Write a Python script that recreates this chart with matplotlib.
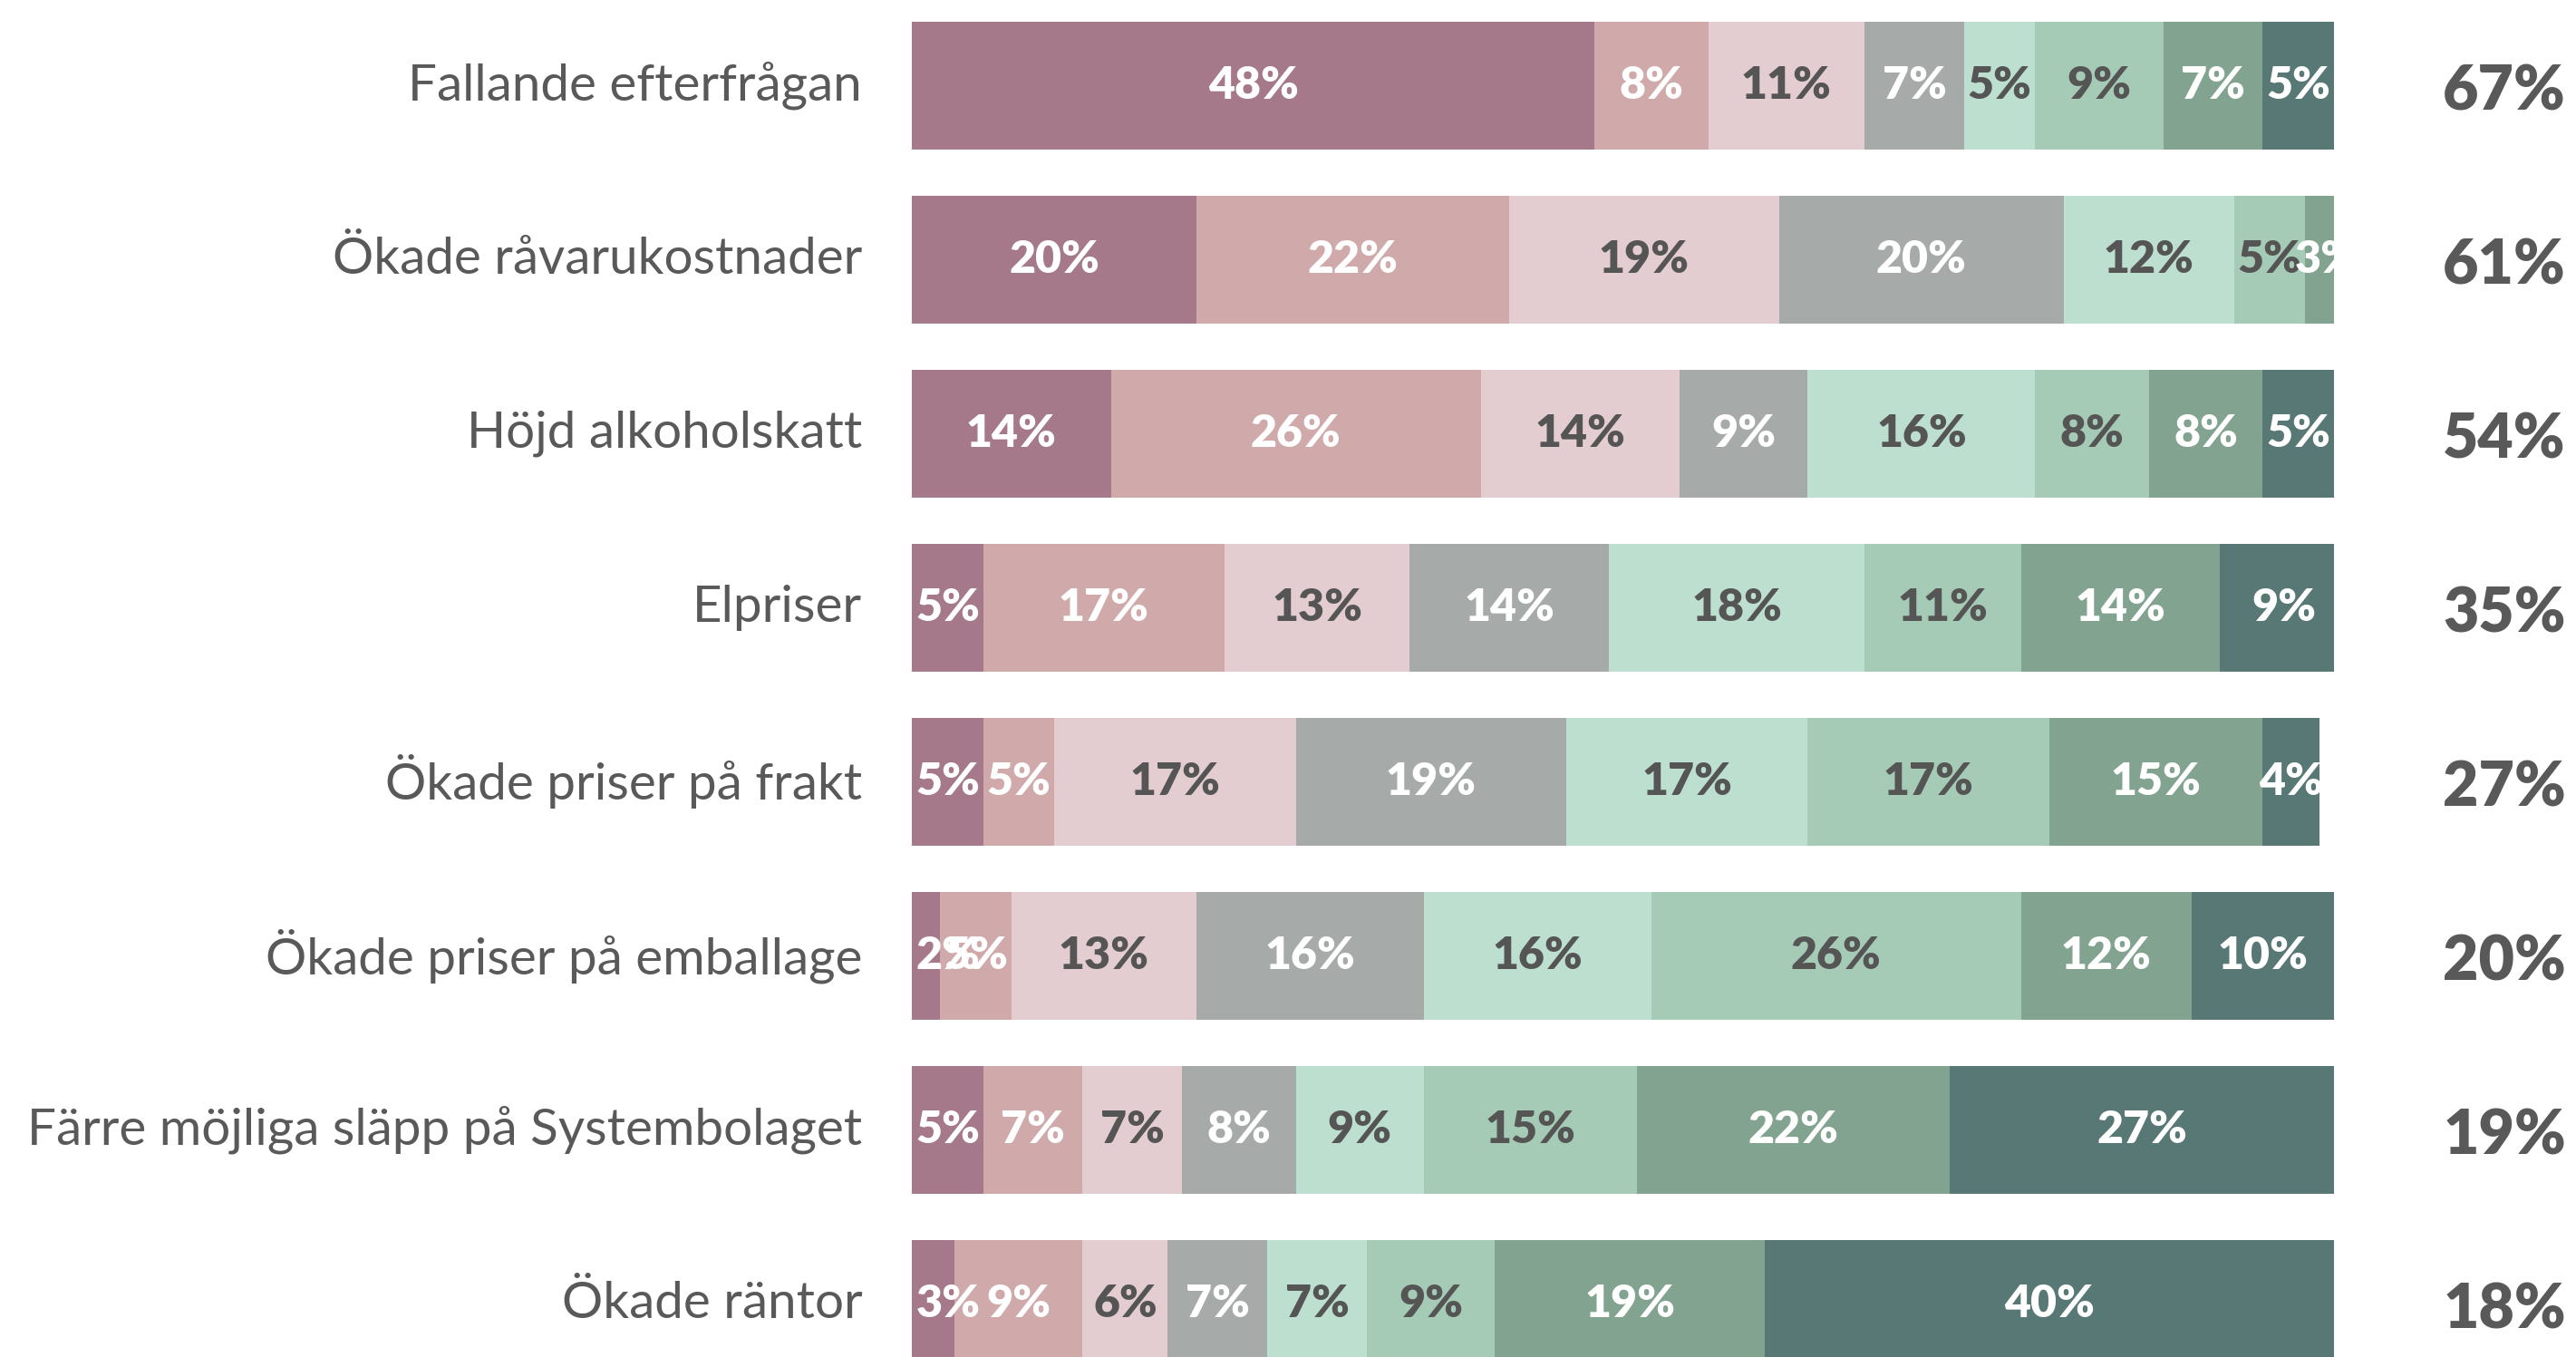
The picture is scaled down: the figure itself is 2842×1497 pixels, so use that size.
import numpy as np
import matplotlib.pyplot as plt

# Kategorier och data (andel svar per nivå, %)
kategorier = ["Fallande efterfrågan", "Ökade råvarukostnader", "Höjd alkoholskatt",
              "Elpriser", "Ökade priser på frakt", "Ökade priser på emballage",
              "Färre möjliga släpp på Systembolaget", "Ökade räntor"]
totalt = [67, 61, 54, 35, 27, 20, 19, 18]

niva1 = [48, 20, 14, 5, 5, 2, 5, 3]
niva2 = [8, 22, 26, 17, 5, 5, 7, 9]
niva3 = [11, 19, 14, 13, 17, 13, 7, 6]
niva4 = [7, 20, 9, 14, 19, 16, 8, 7]
niva5 = [5, 12, 16, 18, 17, 16, 9, 7]
niva6 = [9, 5, 8, 11, 17, 26, 15, 9]
niva7 = [7, 3, 8, 14, 15, 12, 22, 19]
niva8 = [5, 0, 5, 9, 4, 10, 27, 40]
serier = [niva1, niva2, niva3, niva4, niva5, niva6, niva7, niva8]

farger = ["#A6798A", "#D0AAAB", "#E4CDD0", "#A6AAA8",
          "#BCDFCF", "#A5CBB6", "#82A390", "#587875"]
textfarg = ["white", "white", "#555555", "white",
            "#555555", "#555555", "white", "white"]
GRA = "#595959"

plt.rcParams['font.family'] = ['Lato', 'DejaVu Sans']

fig = plt.figure(figsize=(28.42, 14.97), dpi=100)
ax = fig.add_axes([0.354, 0.0, 0.552, 1.0])

y = np.arange(len(kategorier))
vanster = np.zeros(len(kategorier))
for s, farg, tf in zip(serier, farger, textfarg):
    v = np.array(s, dtype=float)
    ax.barh(y, v, left=vanster, height=0.734, color=farg, linewidth=0)
    for i in range(len(y)):
        if v[i] <= 0:
            continue
        if vanster[i] == 0 and v[i] < 8:
            # smal första del: texten börjar vid stapelns början
            xpos, ha = 0.3, 'left'
        else:
            xpos, ha = vanster[i] + v[i] / 2, 'center'
        ax.text(xpos, y[i], f"{int(v[i])}%", ha=ha, va='center',
                color=tf, fontsize=36, fontweight='heavy', clip_on=True)
    vanster += v

ax.set_xlim(0, 100)
ax.set_ylim(7.305, -0.492)
ax.axis('off')

for i, namn in enumerate(kategorier):
    ax.text(-0.035, y[i], namn, transform=ax.get_yaxis_transform(), ha='right', va='center',
            fontsize=40.8, color=GRA)
    ax.text(1.12, y[i] + 0.04, f"{totalt[i]}%", transform=ax.get_yaxis_transform(),
            ha='center', va='center', fontsize=49, fontweight='heavy', color=GRA, clip_on=False)

fig.savefig("out.png", dpi=100)
